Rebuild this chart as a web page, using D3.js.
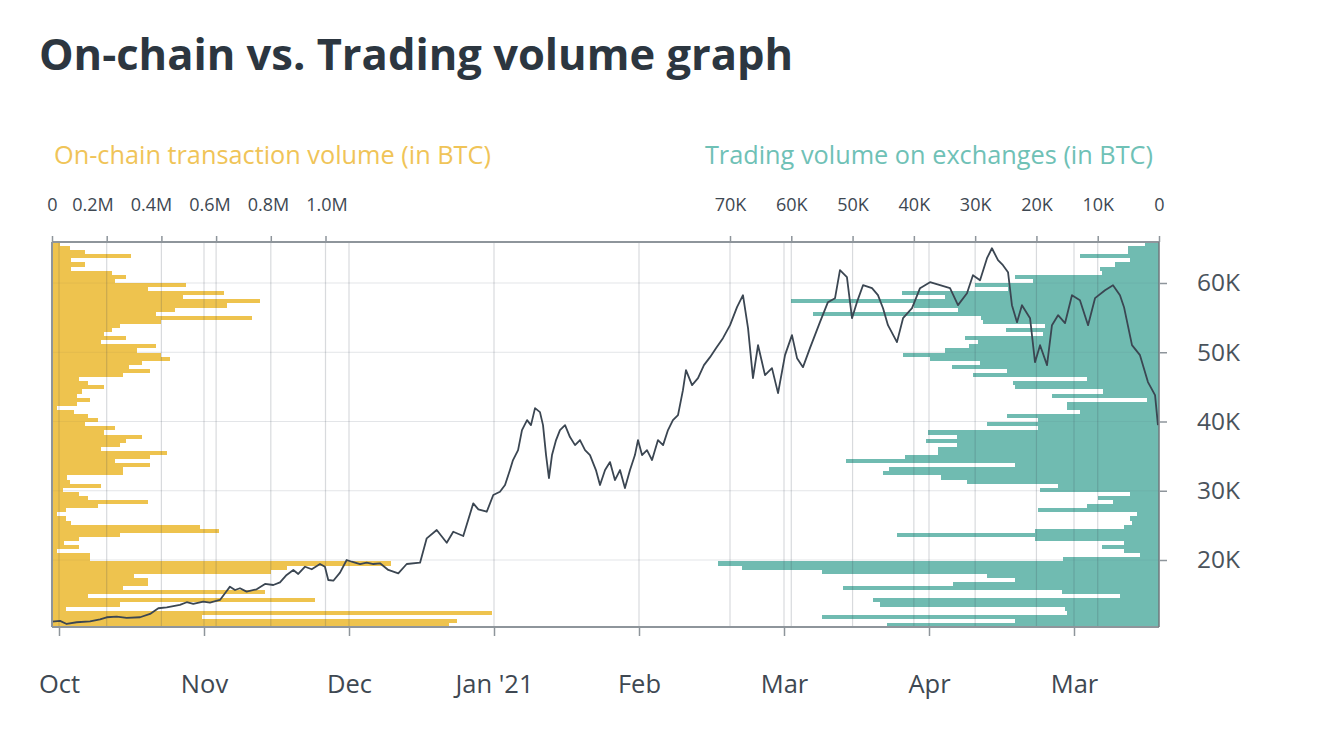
<!DOCTYPE html>
<html><head><meta charset="utf-8">
<script src="https://cdn.jsdelivr.net/npm/d3@7"></script>
<style>
body{margin:0;background:#fff;}
text{font-family:"Open Sans",sans-serif;}
</style></head><body>
<svg id="c" width="1318" height="732"></svg>
<script>
// ---------- data ----------
const months = ["Oct","Nov","Dec","Jan '21","Feb","Mar","Apr","Mar"];
const priceTicks = [20000,30000,40000,50000,60000];
const onchainTicks = [0,0.2,0.4,0.6,0.8,1.0];          // million BTC
const exchangeTicks = [0,10,20,30,40,50,60,70];         // thousand BTC
const priceRange = [10325, 65920];                      // visible USD range
// volume profile bins, ordered from the highest price bin (top) to the lowest (bottom)
const onchainVolume = [0.03,0.065,0.12,0.29,0.07,0.12,0.07,0.22,0.27,0.23,
 0.49,0.35,0.63,0.48,0.76,0.64,0.45,0.38,0.73,0.40,
 0.25,0.22,0.19,0.27,0.18,0.38,0.31,0.40,0.43,0.33,
 0.28,0.36,0.26,0.10,0.13,0.19,0.11,0.09,0.14,0.09,
 0.02,0.08,0.13,0.17,0.12,0.23,0.19,0.33,0.27,0.25,
 0.18,0.42,0.36,0.23,0.36,0.26,0.26,0.055,0.065,0.18,
 0.04,0.10,0.13,0.35,0.17,0.05,0.02,0.05,0.07,0.54,
 0.61,0.25,0.10,0.045,0.10,0.02,0.14,0.14,1.24,0.86,
 0.80,0.30,0.35,0.35,0.26,0.78,0.13,0.96,0.25,0.05,
 1.61,0.55,1.48,1.45];
const exchangeVolume = [2.3,5.0,5.0,12.9,4.7,7.2,9.6,9.3,23.5,20.6,
 30,24.7,42,35,60,40,32.8,56.5,29,28.7,
 18.6,25,19,31.7,29.5,31,35,41.8,37.4,29.2,
 33.8,24.8,30.3,11.8,23.9,23.5,9.1,17.5,2,15,
 15,12.9,24.8,19.8,28,19.8,37.7,33,38,33,
 36,36,41.5,51,23.5,44,45,35.5,31.4,16.5,
 19.4,4.7,10,7.5,11.8,19.8,3.6,4.7,4.4,5.7,
 20.3,42.8,20.3,5.7,9.3,5.7,3.1,15.7,72,68,
 55,28,23.5,33.6,51.6,15.9,6.4,46.7,45.5,15.4,
 15,55,23.5,44.4];
// BTC price: time in months since 1 Oct 2020, price in USD
const priceT = [-0.048,0.007,0.053,0.122,0.214,0.283,0.329,0.398,0.467,0.559,0.628,0.685,0.743,0.834,0.881,0.926,0.995,1.041,1.110,1.145,1.179,1.214,1.248,1.294,1.363,1.421,1.478,1.524,1.570,1.616,1.650,1.697,1.743,1.800,1.834,1.857,1.892,1.938,1.984,2.019,2.076,2.122,2.168,2.214,2.271,2.340,2.398,2.490,2.536,2.605,2.674,2.719,2.788,2.857,2.892,2.950,2.995,3.041,3.076,3.110,3.131,3.166,3.193,3.228,3.255,3.283,3.317,3.338,3.359,3.379,3.400,3.428,3.455,3.490,3.524,3.559,3.593,3.628,3.662,3.703,3.731,3.766,3.800,3.834,3.869,3.903,3.938,3.972,3.993,4.021,4.055,4.090,4.131,4.166,4.200,4.234,4.269,4.303,4.324,4.366,4.407,4.448,4.490,4.531,4.579,4.628,4.676,4.717,4.752,4.786,4.821,4.869,4.917,4.959,5.007,5.055,5.090,5.131,5.179,5.248,5.303,5.352,5.386,5.434,5.469,5.503,5.545,5.607,5.648,5.683,5.717,5.779,5.821,5.883,5.938,6.007,6.076,6.145,6.200,6.262,6.303,6.352,6.400,6.434,6.476,6.510,6.545,6.572,6.607,6.641,6.697,6.731,6.766,6.814,6.848,6.890,6.938,6.986,7.041,7.097,7.145,7.214,7.269,7.317,7.345,7.400,7.455,7.510,7.559,7.579];
const priceV = [11100,11200,10760,11010,11150,11440,11730,11820,11630,11730,12210,13030,13170,13510,13900,13650,13980,13840,14230,15190,16150,15670,15920,15430,15770,16540,16390,16780,17840,18560,17980,19030,18660,19420,19030,17110,17010,18170,20000,19750,19420,19610,19420,19520,18560,18080,19420,19610,23130,24330,22500,24080,23460,28180,27320,26970,29380,29860,30820,32990,34430,35870,38760,40200,39480,41930,41360,39480,35150,31830,35150,37320,38760,39480,37750,36590,37320,35870,35150,32990,30820,32990,34140,31540,32990,30390,32990,35150,37320,35150,35870,34430,37320,36590,38760,40200,40920,44530,47420,45250,46260,48140,49290,50590,52030,53910,56510,58240,53480,46260,51020,46700,47710,44100,49580,52470,49150,47850,50590,54340,57230,57810,61850,60840,54920,57230,59680,59250,58240,56360,53910,51460,54920,56360,59250,60110,59680,59250,56800,58530,61130,60400,63580,65020,63290,62570,61560,56800,54340,56800,54920,48570,51020,48140,53910,55350,54200,58240,57520,53910,57810,58960,59680,58240,56510,51020,49580,45690,43810,39480];

// ---------- layout ----------
const L = 52, R = 1159, T = 242, B = 627;
const svg = d3.select("#c");
const x = d3.scaleLinear().domain([0, 7]).range([59, 1074]);
const y = d3.scaleLinear().domain(priceRange).range([B, T]);
const xL = d3.scaleLinear().domain([0, 1]).range([L, 325.5]);
// the original chart spreads the on-chain tick labels slightly wider than its grid
const xLlabel = d3.scaleLinear().domain([0.2, 1]).range([92.5, 326.5]);
const xR = d3.scaleLinear().domain([0, 70]).range([R, 730]);
const nBins = onchainVolume.length;
const binSize = (priceRange[1] - priceRange[0]) / nBins;
const binTop = i => priceRange[1] - i * binSize;

// title
svg.append("text").attr("x", 39).attr("y", 70).attr("font-size", 43.5).attr("font-weight", 700)
  .attr("fill", "#2c3640").text("On-chain vs. Trading volume graph");
svg.append("text").attr("x", 54).attr("y", 164).attr("font-size", 25.3).attr("fill", "#f0c458")
  .text("On-chain transaction volume (in BTC)");
svg.append("text").attr("x", 1153).attr("y", 164).attr("font-size", 25.3).attr("fill", "#6fc1b6")
  .attr("text-anchor", "end").text("Trading volume on exchanges (in BTC)");

// horizontal grid (below bars)
svg.append("g").selectAll("line").data(priceTicks).join("line")
  .attr("x1", L).attr("x2", R).attr("y1", d => y(d)).attr("y2", d => y(d))
  .attr("stroke", "#eef0f2").attr("stroke-width", 1);

// bars
svg.append("g").selectAll("rect").data(onchainVolume).join("rect")
  .attr("x", L).attr("y", (d, i) => y(binTop(i)))
  .attr("width", d => xL(d) - L).attr("height", (d, i) => y(binTop(i + 1)) - y(binTop(i)))
  .attr("fill", "#eec34e").attr("shape-rendering", "crispEdges");
svg.append("g").selectAll("rect").data(exchangeVolume).join("rect")
  .attr("x", d => xR(d)).attr("y", (d, i) => y(binTop(i)))
  .attr("width", d => R - xR(d)).attr("height", (d, i) => y(binTop(i + 1)) - y(binTop(i)))
  .attr("fill", "#70bbb1").attr("shape-rendering", "crispEdges");

// grid over bars
const gridC = "rgba(60,72,84,0.2)";
const vg = svg.append("g");
const vx = [...onchainTicks.slice(1).map(xL), ...exchangeTicks.slice(1).map(xR), ...months.map((m, i) => x(i))];
vg.selectAll("line").data(vx).join("line")
  .attr("x1", d => d).attr("x2", d => d).attr("y1", T).attr("y2", B)
  .attr("stroke", gridC).attr("stroke-width", 1.2);
svg.append("g").selectAll("line").data(priceTicks).join("line")
  .attr("x1", L).attr("x2", R).attr("y1", d => y(d)).attr("y2", d => y(d))
  .attr("stroke", "rgba(60,72,84,0.06)").attr("stroke-width", 1);

// price line
const pts = priceT.map((t, i) => [t, priceV[i]]);
svg.append("path").datum(pts)
  .attr("d", d3.line().x(d => x(d[0])).y(d => y(d[1])))
  .attr("fill", "none").attr("stroke", "#3b4652").attr("stroke-width", 1.8)
  .attr("stroke-linejoin", "round");

// frame
const frameC = "#8e959b";
svg.append("line").attr("x1", L).attr("x2", R).attr("y1", T).attr("y2", T).attr("stroke", frameC).attr("stroke-width", 2);
svg.append("line").attr("x1", L).attr("x2", R).attr("y1", B).attr("y2", B).attr("stroke", frameC).attr("stroke-width", 2);
svg.append("line").attr("x1", L).attr("x2", L).attr("y1", T).attr("y2", B).attr("stroke", frameC).attr("stroke-width", 2);
svg.append("line").attr("x1", R).attr("x2", R).attr("y1", T).attr("y2", B).attr("stroke", "#6f777d").attr("stroke-width", 1.5);

function styleAxis(g, size, color) {
  g.select(".domain").remove();
  g.selectAll(".tick line").attr("stroke", frameC).attr("stroke-width", 1.5);
  g.selectAll(".tick text").attr("font-size", size).attr("fill", color).attr("font-family", "Open Sans");
}
// top axes
svg.append("g").attr("transform", `translate(0,${T})`)
  .call(d3.axisTop(xL).tickValues(onchainTicks).tickSize(6).tickPadding(25)
    .tickFormat(d => d === 0 ? "0" : d3.format(".1f")(d) + "M"))
  .call(g => styleAxis(g, 18, "#3e4852"))
  .call(g => g.selectAll(".tick text").attr("x", d => d === 0 ? 0 : xLlabel(d) - xL(d)));
svg.append("g").attr("transform", `translate(0,${T})`)
  .call(d3.axisTop(xR).tickValues(exchangeTicks).tickSize(6).tickPadding(25)
    .tickFormat(d => d === 0 ? "0" : d + "K"))
  .call(g => styleAxis(g, 18, "#3e4852"));
// right price axis
svg.append("g").attr("transform", `translate(${R},0)`)
  .call(d3.axisRight(y).tickValues(priceTicks).tickSize(8).tickPadding(30)
    .tickFormat(d => d / 1000 + "K"))
  .call(g => styleAxis(g, 24.5, "#4a535c"));
// bottom time axis
svg.append("g").attr("transform", `translate(0,${B})`)
  .call(d3.axisBottom(x).tickValues(d3.range(months.length)).tickSize(9).tickPadding(39)
    .tickFormat(i => months[i]))
  .call(g => styleAxis(g, 25.5, "#3e4852"));
</script>
</body></html>
